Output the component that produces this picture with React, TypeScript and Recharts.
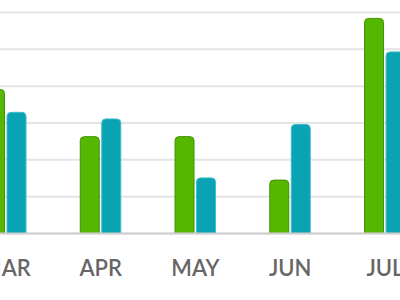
import React from 'react';
import { BarChart, Bar, XAxis, YAxis, CartesianGrid } from 'recharts';

const months = ['MAR', 'APR', 'MAY', 'JUN', 'JUL'];
const greenValues = [39.1, 26.3, 26.3, 14.5, 58.4];
const tealValues = [32.9, 31.1, 15.1, 29.6, 49.3];
const yTicks = [0, 10, 20, 30, 40, 50, 60];

const data = months.map((m, i) => ({ month: m, green: greenValues[i], teal: tealValues[i] }));

const MonthTick = (props: any) => {
  const { x, y, payload } = props;
  return (
    <text
      x={x}
      y={y}
      dy={42}
      textAnchor="middle"
      fill="#666666"
      fontFamily="Lato, 'Open Sans', sans-serif"
      fontWeight={600}
      fontSize={22}
    >
      {payload.value}
    </text>
  );
};

export default function App() {
  return (
    <div style={{ position: 'absolute', left: 0, top: 0, width: 400, height: 300, overflow: 'hidden', background: '#fff' }}>
      <div style={{ position: 'absolute', left: -60, top: 0 }}>
        <BarChart
          width={520}
          height={300}
          data={data}
          margin={{ top: 12.5, right: 27.7, left: 18.5, bottom: 0 }}
          barSize={19}
          barGap={2.5}
        >
          <CartesianGrid vertical={false} stroke="#e4e4e4" strokeWidth={2} />
          <YAxis hide domain={[0, 60]} ticks={yTicks} />
          <XAxis
            dataKey="month"
            height={66.5}
            axisLine={{ stroke: '#cfcfcf', strokeWidth: 2 }}
            tickLine={false}
            tickSize={0}
            tickMargin={0}
            tick={<MonthTick />}
            interval={0}
          />
          <Bar dataKey="green" fill="#56b700" stroke="#3f9400" strokeWidth={1} radius={[4, 4, 0, 0]} isAnimationActive={false} />
          <Bar dataKey="teal" fill="#0aa3b4" stroke="#3bbccb" strokeWidth={1} radius={[4, 4, 0, 0]} isAnimationActive={false} />
        </BarChart>
      </div>
    </div>
  );
}
